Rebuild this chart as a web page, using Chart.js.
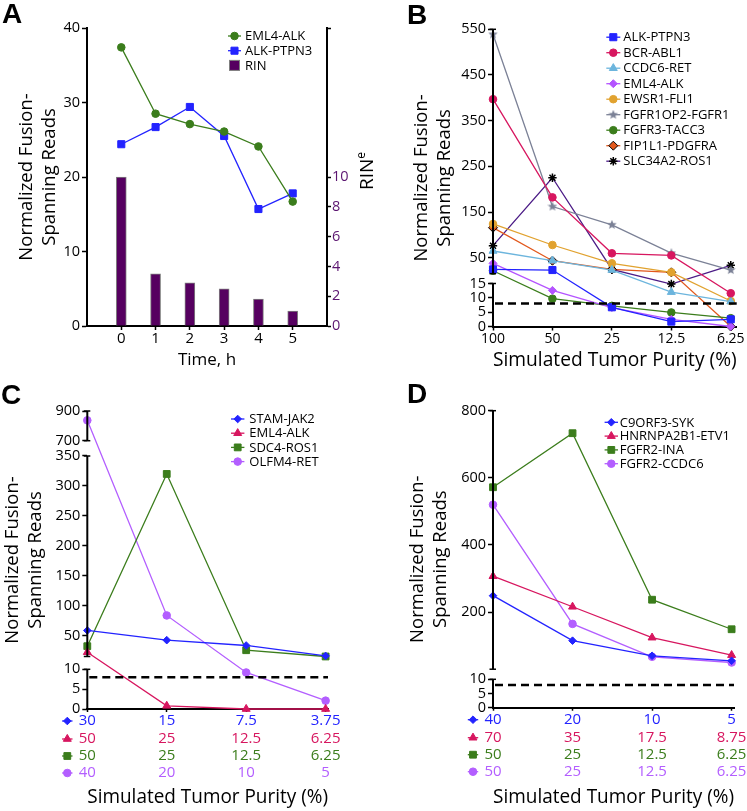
<!DOCTYPE html>
<html>
<head>
<meta charset="utf-8">
<script src="https://cdn.jsdelivr.net/npm/chart.js@4.4.1/dist/chart.umd.min.js"></script>
<style>
html,body{margin:0;padding:0;background:#fff;width:747px;height:811px;overflow:hidden;}
.panel{position:absolute;}
.letter{position:absolute;font-family:'Liberation Sans',Arial,sans-serif;font-weight:bold;font-size:28px;line-height:28px;color:#000;}
.rin{position:absolute;font-family:'Open Sans',sans-serif;font-size:19px;line-height:19px;transform:rotate(-90deg);transform-origin:left top;white-space:nowrap;color:#000;}
</style>
</head>
<body>
<div class="panel" style="left:0;top:0;width:373px;height:380px"><canvas id="cA"></canvas></div>
<div class="panel" style="left:373px;top:0;width:374px;height:380px"><canvas id="cB"></canvas></div>
<div class="panel" style="left:0;top:380px;width:373px;height:431px"><canvas id="cC"></canvas></div>
<div class="panel" style="left:373px;top:380px;width:374px;height:431px"><canvas id="cD"></canvas></div>
<div class="letter" style="left:2px;top:0px">A</div>
<div class="letter" style="left:407px;top:1px">B</div>
<div class="letter" style="left:1px;top:381px">C</div>
<div class="letter" style="left:407px;top:380px">D</div>
<div class="rin" style="left:357px;top:190px">RIN<span style="font-size:12px;position:relative;top:-8px">e</span></div>
<script>
// ---------------- DATA ----------------
// Panel A
const timeHours = [0, 1, 2, 3, 4, 5];
const eml4AlkA = [37.4, 28.5, 27.1, 26.1, 24.1, 16.7];
const alkPtpn3A = [24.4, 26.7, 29.4, 25.5, 15.7, 17.8];
const rinA = [10.0, 3.5, 2.9, 2.5, 1.8, 1.0];
const readTicksA = [0, 10, 20, 30, 40];
const rinTicksA = [0, 2, 4, 6, 8, 10, 20];

// Panel B
const purityB = ['100', '50', '25', '12.5', '6.25'];
const alkPtpn3B = [24.4, 23, 6.7, 1.7, 2.5];
const bcrAbl1B = [397, 182, 59.6, 55, 11.6];
const ccdc6RetB = [64.7, 43.4, 23, 12.0, 8.7];
const eml4AlkB = [37.7, 12.6, 6.6, 2.5, 0];
const ewsr1Fli1B = [123.8, 77.8, 37.7, 18, 8.9];
const fgfr1op2Fgfr1B = [539, 162, 122, 60, 23];
const fgfr3Tacc3B = [21.5, 9.7, 7.2, 4.9, 2.9];
const fip1l1PdgfraB = [115.7, 43.4, 24.4, 18, 0];
const slc34a2Ros1B = [76.3, 225, 24.4, 14.8, 33.4];
const ticksB = [0, 5, 10, 15, 50, 150, 250, 350, 450, 550];

// Panel C
const stamJak2Purity = ['30', '15', '7.5', '3.75'];
const eml4AlkPurityC = ['50', '25', '12.5', '6.25'];
const sdc4Ros1Purity = ['50', '25', '12.5', '6.25'];
const olfm4RetPurity = ['40', '20', '10', '5'];
const stamJak2C = [58.5, 42.3, 33.4, 16];
const eml4AlkC = [22.2, 0.8, 0, 0];
const sdc4Ros1C = [32.2, 320, 25.5, 15];
const olfm4RetC = [837, 83.6, 9.2, 2.1];
const ticksC = [0, 5, 10, 50, 100, 150, 200, 250, 300, 350, 700, 900];

// Panel D
const c9orf3SykPurity = ['40', '20', '10', '5'];
const hnrnpa2b1Etv1Purity = ['70', '35', '17.5', '8.75'];
const fgfr2InaPurity = ['50', '25', '12.5', '6.25'];
const fgfr2Ccdc6Purity = ['50', '25', '12.5', '6.25'];
const c9orf3SykD = [249, 115, 70, 55];
const hnrnpa2b1Etv1D = [307, 216, 124, 72];
const fgfr2InaD = [572, 733, 237, 149];
const fgfr2Ccdc6D = [520, 165, 67, 50];
const ticksD = [0, 5, 10, 200, 400, 600, 800];

const detectionThreshold = 8;

// ---------------- STYLE ----------------
const FONT = "'Open Sans', 'Noto Sans', sans-serif";
Chart.defaults.font.family = FONT;
Chart.defaults.color = '#000';

const BLUE = '#2323ff', CRIMSON = '#d7165f', GREEN = '#3b7d1c', VIOLET = '#b454ff',
      LILAC = '#b35eff', SKY = '#6cb5dd', GOLD = '#e1a22f', SLATE = '#7b8196',
      VERMILION = '#e2581c', PLUM = '#4b1b86', AUBERGINE = '#560060', RINPURPLE = '#5b1570';

function makeStar(color, size) {
  const c = document.createElement('canvas');
  c.width = size; c.height = size;
  const g = c.getContext('2d');
  g.fillStyle = color; g.beginPath();
  for (let i = 0; i < 10; i++) {
    const r = i % 2 === 0 ? size / 2 : size / 4.6;
    const a = -Math.PI / 2 + i * Math.PI / 5;
    g.lineTo(size / 2 + r * Math.cos(a), size / 2 + r * Math.sin(a));
  }
  g.closePath(); g.fill();
  return c;
}

// ---------------- BROKEN SCALE ----------------
function valueToDecimal(segs, v) {
  for (let i = 0; i < segs.length; i++) {
    const s = segs[i];
    if (v < s.from && i > 0) {
      const p = segs[i - 1];
      return p.end + (v - p.to) / (s.from - p.to) * (s.start - p.end);
    }
    if (v <= s.to || i === segs.length - 1) {
      return s.start + (v - s.from) / (s.to - s.from) * (s.end - s.start);
    }
  }
  return 0;
}
function decimalToValue(segs, d) {
  for (let i = 0; i < segs.length; i++) {
    const s = segs[i];
    if (d < s.start && i > 0) {
      const p = segs[i - 1];
      return p.to + (d - p.end) / (s.start - p.end) * (s.from - p.to);
    }
    if (d <= s.end || i === segs.length - 1) {
      return s.from + (d - s.start) / (s.end - s.start) * (s.to - s.from);
    }
  }
  return 0;
}
function registerBroken(id, segs) {
  class BrokenScale extends Chart.LinearScale {
    getPixelForValue(value) {
      if (value === null || value === undefined || Number.isNaN(+value)) return NaN;
      return this.getPixelForDecimal(valueToDecimal(segs, +value));
    }
    getValueForPixel(pixel) {
      return decimalToValue(segs, this.getDecimalForPixel(pixel));
    }
  }
  BrokenScale.id = id;
  BrokenScale.defaults = {};
  BrokenScale.segs = segs;
  Chart.register(BrokenScale);
}
registerBroken('brokenB', [
  {from: 0, to: 15, start: 0, end: 0.1447},
  {from: 15, to: 550, start: 0.1777, end: 1}
]);
registerBroken('brokenC', [
  {from: 0, to: 10, start: 0, end: 0.1332},
  {from: 15, to: 350, start: 0.1762, end: 0.849},
  {from: 700, to: 900, start: 0.9003, end: 1}
]);
registerBroken('brokenD', [
  {from: 0, to: 10, start: 0, end: 0.0956},
  {from: 30, to: 800, start: 0.1296, end: 1}
]);

// ---------------- PLUGINS ----------------
function drawMarker(ctx, ds, x, y) {
  ctx.fillStyle = ds.pointBackgroundColor;
  ctx.strokeStyle = ds.pointBorderColor;
  ctx.lineWidth = ds.pointBorderWidth;
  Chart.helpers.drawPoint(ctx, {pointStyle: ds.pointStyle, rotation: 0, radius: ds.pointRadius, borderWidth: ds.pointBorderWidth}, x, y);
}

const panelLegend = {
  id: 'panelLegend',
  afterDraw(chart, args, o) {
    if (o.x === undefined) return;
    const ctx = chart.ctx;
    ctx.save();
    ctx.font = o.fontSize + 'px ' + FONT;
    ctx.textBaseline = 'middle';
    ctx.textAlign = 'left';
    chart.data.datasets.forEach((ds, i) => {
      const y = o.y + i * o.row;
      if (ds.type === 'bar') {
        ctx.fillStyle = ds.backgroundColor;
        ctx.fillRect(o.x - 5, y - 5, 10, 10);
        ctx.strokeStyle = ds.borderColor; ctx.lineWidth = 1;
        ctx.strokeRect(o.x - 5, y - 5, 10, 10);
      } else {
        ctx.strokeStyle = ds.borderColor; ctx.lineWidth = ds.borderWidth;
        ctx.beginPath(); ctx.moveTo(o.x - o.half, y); ctx.lineTo(o.x + o.half, y); ctx.stroke();
        drawMarker(ctx, ds, o.x, y);
      }
      ctx.fillStyle = '#000';
      ctx.fillText(ds.label, o.text, y + 0.5);
    });
    ctx.restore();
  }
};

const brokenAxis = {
  id: 'brokenAxis',
  afterDraw(chart) {
    const ctx = chart.ctx;
    Object.values(chart.scales).forEach(scale => {
      const segs = scale.constructor.segs;
      if (!segs) return;
      const x = scale.right;
      ctx.save();
      ctx.strokeStyle = '#000';
      segs.forEach(s => {
        const y0 = scale.getPixelForDecimal(s.start), y1 = scale.getPixelForDecimal(s.end);
        ctx.lineWidth = 2;
        ctx.beginPath(); ctx.moveTo(x, y0); ctx.lineTo(x, y1); ctx.stroke();
        ctx.lineWidth = 1.5;
        [[s.start, y0], [s.end, y1]].forEach(([d, y]) => {
          if (d === 0) return;
          ctx.beginPath(); ctx.moveTo(x - 3.5, y); ctx.lineTo(x + 3, y); ctx.stroke();
        });
      });
      ctx.restore();
    });
  }
};

const thresholdLine = {
  id: 'thresholdLine',
  afterDatasetsDraw(chart, args, o) {
    if (o.value === undefined || o.value === null) return;
    const ctx = chart.ctx;
    const y = chart.scales.y.getPixelForValue(o.value);
    const {left, right} = chart.chartArea;
    ctx.save();
    ctx.setLineDash([8, 5]);
    ctx.lineWidth = 2.5;
    ctx.strokeStyle = '#000';
    ctx.beginPath(); ctx.moveTo(left + 2, y); ctx.lineTo(right, y); ctx.stroke();
    ctx.restore();
  }
};

const rowMarkers = {
  id: 'rowMarkers',
  afterDraw(chart, args, o) {
    if (!o.rows) return;
    const ctx = chart.ctx;
    o.rows.forEach((axisId, i) => {
      const scale = chart.scales[axisId];
      const ds = chart.data.datasets[i];
      const font = Chart.helpers.toFont(scale.options.ticks.font);
      const grid = scale.options.grid;
      const tl = grid.drawTicks ? grid.tickLength : 0;
      const y = scale.top + tl + scale.options.ticks.padding + font.lineHeight / 2;
      const x = chart.chartArea.left + o.offset;
      ctx.save();
      ctx.strokeStyle = ds.borderColor; ctx.lineWidth = ds.borderWidth;
      ctx.beginPath(); ctx.moveTo(x - o.half, y); ctx.lineTo(x + o.half, y); ctx.stroke();
      drawMarker(ctx, ds, x, y);
      ctx.restore();
    });
  }
};

// ---------------- HELPERS ----------------
function series(label, xs, values, color, style, radius, extra) {
  return Object.assign({
    label: label,
    data: values.map((v, i) => ({x: xs[i], y: v})),
    borderColor: color, backgroundColor: color, borderWidth: 1.3,
    pointStyle: style, pointRadius: radius,
    pointBackgroundColor: color, pointBorderColor: color, pointBorderWidth: 1,
    tension: 0, clip: false
  }, extra || {});
}
const idx = arr => arr.map((_, i) => i);

function leftAxis(type, min, max, ticks, width, titlePad) {
  return {
    type: type, position: 'left', min: min, max: max,
    afterBuildTicks: s => { s.ticks = ticks.map(v => ({value: v})); },
    afterFit: s => { s.width = width; s.paddingTop = 0; s.paddingBottom = 0; },
    grid: {display: true, drawOnChartArea: false, drawTicks: true, tickLength: 5, tickColor: '#000', tickWidth: 1.5},
    border: {display: type === 'linear', color: '#000', width: 2},
    ticks: {autoSkip: false, padding: 2, font: {size: 14.5}, color: '#000', callback: v => String(v)},
    title: {display: true, text: ['Normalized Fusion-', 'Spanning Reads'], color: '#000',
            font: {size: 18.5, lineHeight: 1.25}, padding: {top: titlePad, bottom: 0}}
  };
}

function bottomAxis(labels, max, height, opts) {
  const o = opts || {};
  return {
    type: 'linear', position: 'bottom', min: 0, max: max, weight: o.weight || 0, offset: false,
    afterBuildTicks: s => { s.ticks = labels.map((_, i) => ({value: i})); },
    afterFit: s => { s.height = height; s.paddingLeft = 0; s.paddingRight = 0; },
    grid: o.main ? {display: true, drawOnChartArea: false, drawTicks: true, tickLength: o.tickLength || 3, tickColor: '#000', tickWidth: 1.5}
                 : {display: false, drawOnChartArea: false, drawTicks: false},
    border: o.main ? {display: true, color: '#000', width: 2} : {display: false},
    ticks: {autoSkip: false, maxRotation: 0, minRotation: 0, padding: 0, font: {size: o.fontSize || 15},
            color: o.color || '#000', callback: v => labels[v]},
    title: o.title ? {display: true, text: o.title, color: '#000', font: {size: o.titleSize || 19.3},
                      padding: {top: 0, bottom: o.titlePadBottom}} : {display: false}
  };
}

const baseOptions = (padTop, padRight) => ({
  responsive: true, maintainAspectRatio: false, animation: false, events: [],
  layout: {padding: {top: padTop, right: padRight, bottom: 0, left: 0}}
});

// ---------------- PANEL A ----------------
new Chart(document.getElementById('cA'), {
  type: 'line',
  data: {
    datasets: [
      series('EML4-ALK', timeHours, eml4AlkA, GREEN, 'circle', 3.8, {yAxisID: 'y'}),
      series('ALK-PTPN3', timeHours, alkPtpn3A, BLUE, 'rect', 5, {yAxisID: 'y'}),
      {type: 'bar', label: 'RIN', yAxisID: 'y2', data: rinA.map((v, i) => ({x: timeHours[i], y: v})),
       backgroundColor: AUBERGINE, borderColor: '#7f7f7f', borderWidth: 1, barThickness: 10}
    ]
  },
  options: Object.assign(baseOptions(28, 0), {
    plugins: {legend: {display: false}, tooltip: {enabled: false},
              panelLegend: {x: 234.5, half: 6.5, text: 245, y: 36, row: 14.7, fontSize: 13}},
    scales: {
      x: {type: 'linear', position: 'bottom', min: -1, max: 6, offset: false,
          afterBuildTicks: s => { s.ticks = timeHours.map(v => ({value: v})); },
          afterFit: s => { s.height = 54; s.paddingLeft = 0; s.paddingRight = 0; },
          grid: {display: true, offset: false, drawOnChartArea: false, drawTicks: true, tickLength: 4, tickColor: '#000', tickWidth: 1.5},
          border: {display: true, color: '#000', width: 2},
          ticks: {autoSkip: false, maxRotation: 0, padding: 0, font: {size: 15}, color: '#000', callback: v => String(v)},
          title: {display: true, text: 'Time, h', color: '#000', font: {size: 17}, padding: {top: 0, bottom: 9.8}}},
      y: leftAxis('linear', 0, 40, readTicksA, 87, 15.4),
      y2: {type: 'linear', position: 'right', min: 0, max: 20,
           afterBuildTicks: s => { s.ticks = rinTicksA.map(v => ({value: v})); },
           afterFit: s => { s.width = 46; s.paddingTop = 0; s.paddingBottom = 0; },
           grid: {display: true, drawOnChartArea: false, drawTicks: true, tickLength: 4, tickColor: '#000', tickWidth: 1.5},
           border: {display: true, color: '#000', width: 2},
           ticks: {autoSkip: false, padding: 1, font: {size: 14.5}, color: RINPURPLE, callback: v => (v > 10 ? '' : String(v))}}
    }
  }),
  plugins: [panelLegend]
});

// ---------------- PANEL B ----------------
const xB = idx(purityB);
new Chart(document.getElementById('cB'), {
  type: 'line',
  data: {
    datasets: [
      series('ALK-PTPN3', xB, alkPtpn3B, BLUE, 'rect', 5),
      series('BCR-ABL1', xB, bcrAbl1B, CRIMSON, 'circle', 3.8),
      series('CCDC6-RET', xB, ccdc6RetB, SKY, 'triangle', 4.6),
      series('EML4-ALK', xB, eml4AlkB, VIOLET, 'rectRot', 4),
      series('EWSR1-FLI1', xB, ewsr1Fli1B, GOLD, 'circle', 3.8),
      series('FGFR1OP2-FGFR1', xB, fgfr1op2Fgfr1B, SLATE, makeStar(SLATE, 10), 5),
      series('FGFR3-TACC3', xB, fgfr3Tacc3B, GREEN, 'circle', 3.8),
      series('FIP1L1-PDGFRA', xB, fip1l1PdgfraB, VERMILION, 'rectRot', 4.5, {pointBorderColor: '#000'}),
      series('SLC34A2-ROS1', xB, slc34a2Ros1B, PLUM, 'star', 4.2, {pointBorderColor: '#000', pointBackgroundColor: '#000', pointBorderWidth: 1.5})
    ]
  },
  options: Object.assign(baseOptions(29.3, 10.3), {
    plugins: {legend: {display: false}, tooltip: {enabled: false},
              panelLegend: {x: 240.3, half: 7, text: 250.3, y: 37.2, row: 15.5, fontSize: 13},
              thresholdLine: {value: detectionThreshold}},
    scales: {
      x: bottomAxis(purityB, 4.1, 53.5, {main: true, tickLength: 4, fontSize: 14, title: 'Simulated Tumor Purity (%)', titlePadBottom: 8.4}),
      y: leftAxis('brokenB', 0, 550, ticksB, 120, 37.5)
    }
  }),
  plugins: [panelLegend, brokenAxis, thresholdLine]
});

// ---------------- PANEL C ----------------
const xC = idx(stamJak2Purity);
new Chart(document.getElementById('cC'), {
  type: 'line',
  data: {
    datasets: [
      series('STAM-JAK2', xC, stamJak2C, BLUE, 'rectRot', 3.8),
      series('EML4-ALK', xC, eml4AlkC, CRIMSON, 'triangle', 4.6),
      series('SDC4-ROS1', xC, sdc4Ros1C, GREEN, 'rect', 4.8),
      series('OLFM4-RET', xC, olfm4RetC, LILAC, 'circle', 3.8)
    ]
  },
  options: Object.assign(baseOptions(31, 45), {
    plugins: {legend: {display: false}, tooltip: {enabled: false},
              panelLegend: {x: 237.7, half: 6.7, text: 249.3, y: 39, row: 14.2, fontSize: 13},
              thresholdLine: {value: detectionThreshold},
              rowMarkers: {rows: ['x', 'x2', 'x3', 'x4'], offset: -20, half: 5.2}},
    scales: {
      x: bottomAxis(stamJak2Purity, 3.03, 21, {main: true, color: BLUE}),
      x2: bottomAxis(eml4AlkPurityC, 3.03, 17, {weight: 1, color: CRIMSON}),
      x3: bottomAxis(sdc4Ros1Purity, 3.03, 17, {weight: 2, color: GREEN}),
      x4: bottomAxis(olfm4RetPurity, 3.03, 47, {weight: 3, color: LILAC, title: 'Simulated Tumor Purity (%)', titlePadBottom: 2.4}),
      y: leftAxis('brokenC', 0, 900, ticksC, 87.3, 1)
    }
  }),
  plugins: [panelLegend, brokenAxis, thresholdLine, rowMarkers]
});

// ---------------- PANEL D ----------------
const xD = idx(c9orf3SykPurity);
new Chart(document.getElementById('cD'), {
  type: 'line',
  data: {
    datasets: [
      series('C9ORF3-SYK', xD, c9orf3SykD, BLUE, 'rectRot', 3.8),
      series('HNRNPA2B1-ETV1', xD, hnrnpa2b1Etv1D, CRIMSON, 'triangle', 4.6),
      series('FGFR2-INA', xD, fgfr2InaD, GREEN, 'rect', 4.8),
      series('FGFR2-CCDC6', xD, fgfr2Ccdc6D, LILAC, 'circle', 3.8)
    ]
  },
  options: Object.assign(baseOptions(30.7, 13), {
    plugins: {legend: {display: false}, tooltip: {enabled: false},
              panelLegend: {x: 238.3, half: 6.7, text: 246.7, y: 42.3, row: 13.8, fontSize: 13},
              thresholdLine: {value: detectionThreshold},
              rowMarkers: {rows: ['x', 'x2', 'x3', 'x4'], offset: -20, half: 5.2}},
    scales: {
      x: bottomAxis(c9orf3SykPurity, 3.03, 21, {main: true, color: BLUE}),
      x2: bottomAxis(hnrnpa2b1Etv1Purity, 3.03, 17, {weight: 1, color: CRIMSON}),
      x3: bottomAxis(fgfr2InaPurity, 3.03, 17, {weight: 2, color: GREEN}),
      x4: bottomAxis(fgfr2Ccdc6Purity, 3.03, 48.3, {weight: 3, color: LILAC, title: 'Simulated Tumor Purity (%)', titlePadBottom: 2.4}),
      y: leftAxis('brokenD', 0, 800, ticksD, 120, 33.5)
    }
  }),
  plugins: [panelLegend, brokenAxis, thresholdLine, rowMarkers]
});
</script>
</body>
</html>
